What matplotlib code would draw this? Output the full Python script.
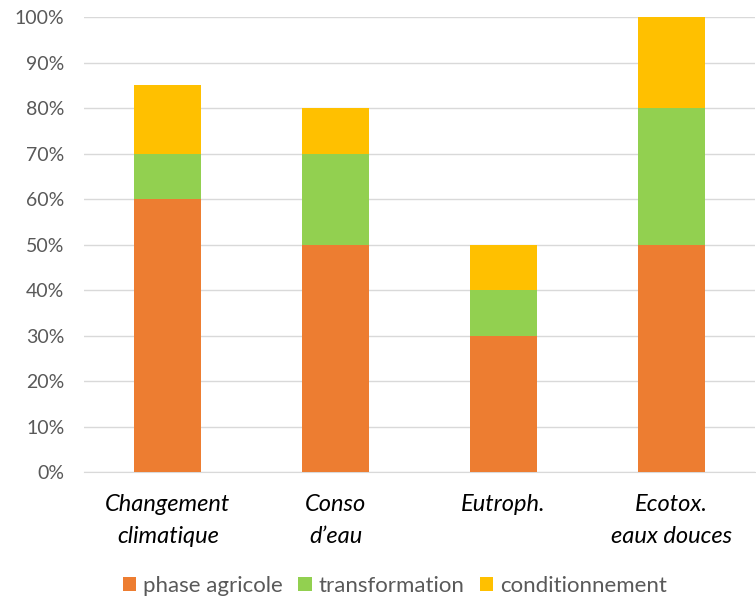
import matplotlib
matplotlib.use('Agg')
import matplotlib.pyplot as plt
from matplotlib.ticker import PercentFormatter

categories = ['Changement\nclimatique', 'Conso\nd\u2019eau', 'Eutroph.', 'Ecotox.\neaux douces']
agricole = [60, 50, 30, 50]
transformation = [10, 20, 10, 30]
conditionnement = [15, 10, 10, 20]
series_names = ['phase agricole', 'transformation', 'conditionnement']
colors = ['#ED7D31', '#92D050', '#FFC000']

plt.rcParams['font.family'] = ['Lato', 'DejaVu Sans']

fig = plt.figure(figsize=(7.56, 5.99), dpi=100)
ax = fig.add_axes([0.111, 0.212, 0.888, 0.7596])

x = range(len(categories))
bottom = [0] * len(categories)
for vals, name, col in zip([agricole, transformation, conditionnement], series_names, colors):
    ax.bar(x, vals, width=0.4, bottom=bottom, color=col, label=name, zorder=3)
    bottom = [b + v for b, v in zip(bottom, vals)]

ax.set_xlim(-0.5, 3.5)
ax.set_ylim(0, 100)
ax.set_yticks(range(0, 101, 10))
ax.yaxis.set_major_formatter(PercentFormatter(decimals=0))
ax.grid(axis='y', color='#D9D9D9', linewidth=1, zorder=0)
for s in ['top', 'right', 'left']:
    ax.spines[s].set_visible(False)
ax.spines['bottom'].set_color('#D9D9D9')
ax.tick_params(axis='both', length=0)
ax.tick_params(axis='y', labelsize=14, labelcolor='#595959', pad=14)
ax.set_xticks(list(x))
ax.set_xticklabels(categories, fontsize=17, style='italic', color='black', linespacing=1.65)
ax.tick_params(axis='x', pad=16)

ax.legend(loc='center', bbox_to_anchor=(0.463, -0.25), ncol=3, frameon=False,
          fontsize=16, handlelength=0.6, handleheight=0.6, handletextpad=0.3,
          columnspacing=0.7, labelcolor='#595959')

fig.savefig('out.png', dpi=100)
